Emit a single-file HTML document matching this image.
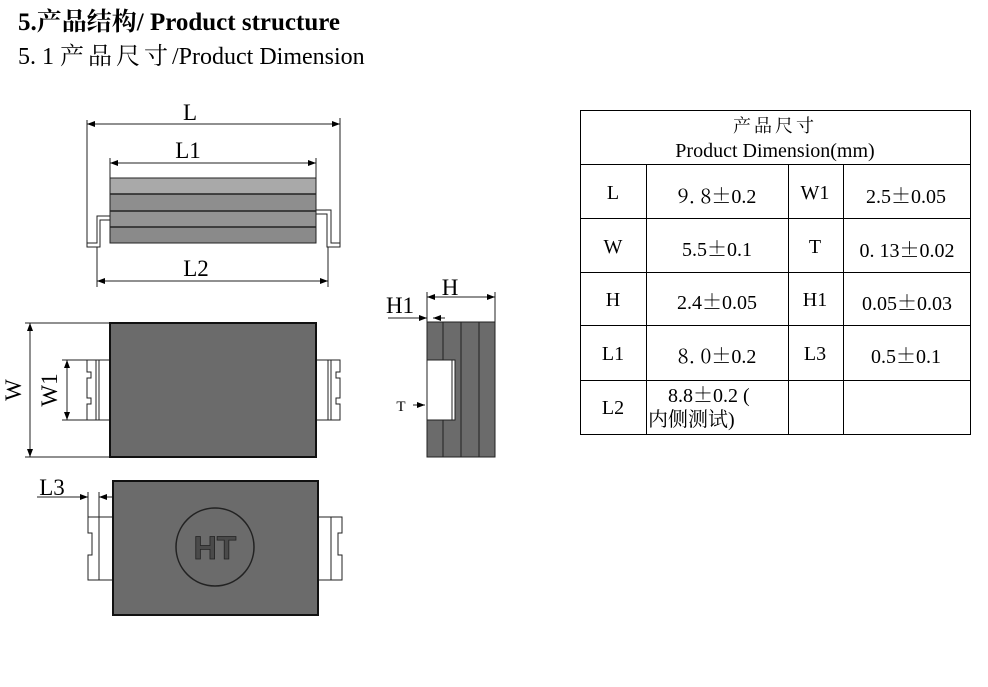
<!DOCTYPE html>
<html><head><meta charset="utf-8"><style>
html,body{margin:0;padding:0;background:#fff;}
svg{display:block;}
text{font-family:"Liberation Serif","Noto Serif CJK SC",serif;fill:#000;}
.c{font-family:"Noto Serif CJK SC",serif;}
</style></head><body>
<svg width="988" height="687" viewBox="0 0 988 687" xmlns="http://www.w3.org/2000/svg">
<defs>
<marker id="a" markerWidth="8" markerHeight="6" refX="8" refY="3" orient="auto" markerUnits="userSpaceOnUse"><path d="M0,0 L8,3 L0,6z" fill="#000"/></marker>
<marker id="b" markerWidth="8" markerHeight="6" refX="0" refY="3" orient="auto" markerUnits="userSpaceOnUse"><path d="M8,0 L0,3 L8,6z" fill="#000"/></marker>
</defs>
<text x="18" y="30" font-size="25" font-weight="bold">5.产品结构/ Product structure</text>
<text x="18" y="64" font-size="24">5. 1 <tspan letter-spacing="4">产品尺寸</tspan>/Product Dimension</text>

<g stroke="#222" stroke-width="1" fill="none">
<line x1="87" y1="120" x2="87" y2="243"/><line x1="340" y1="118" x2="340" y2="243"/>
<line x1="87" y1="124" x2="340" y2="124" marker-start="url(#b)" marker-end="url(#a)"/>
<line x1="110" y1="158" x2="110" y2="178"/><line x1="316" y1="158" x2="316" y2="178"/>
<line x1="110" y1="163" x2="316" y2="163" marker-start="url(#b)" marker-end="url(#a)"/>
<path d="M110,216 H97 V243 H87 V247 H100 V220 H110" fill="#fff"/>
<path d="M316,210 H331 V243 H340 V247 H327 V214 H316" fill="#fff"/>
<line x1="97" y1="247" x2="97" y2="287"/><line x1="328" y1="247" x2="328" y2="287"/>
<line x1="97" y1="281" x2="328" y2="281" marker-start="url(#b)" marker-end="url(#a)"/>
<rect x="110" y="178" width="206" height="16" fill="#a9a9a9"/>
<rect x="110" y="194" width="206" height="17" fill="#8e8e8e"/>
<rect x="110" y="211" width="206" height="16" fill="#939393"/>
<rect x="110" y="227" width="206" height="16" fill="#8a8a8a"/>
<rect x="110" y="178" width="206" height="65"/>
<line x1="110" y1="194" x2="316" y2="194" stroke-width="1.5"/>
<line x1="110" y1="211" x2="316" y2="211" stroke-width="1.5"/>
<line x1="110" y1="227" x2="316" y2="227" stroke-width="1.5"/>

<line x1="25" y1="323" x2="110" y2="323"/><line x1="25" y1="457" x2="110" y2="457"/>
<line x1="30" y1="323" x2="30" y2="457" marker-start="url(#b)" marker-end="url(#a)"/>
<line x1="62" y1="360" x2="88" y2="360"/><line x1="62" y1="420" x2="88" y2="420"/>
<line x1="67" y1="360" x2="67" y2="420" marker-start="url(#b)" marker-end="url(#a)"/>
<path d="M110,360 H87 V372 H91 V378 H87 V398 H91 V404 H87 V420 H110" fill="#fff"/>
<line x1="96" y1="360" x2="96" y2="420"/><line x1="99" y1="360" x2="99" y2="420"/>
<path d="M316,360 H340 V372 H336 V378 H340 V398 H336 V404 H340 V420 H316" fill="#fff"/>
<line x1="328" y1="360" x2="328" y2="420"/><line x1="331" y1="360" x2="331" y2="420"/>
<rect x="110" y="323" width="206" height="134" fill="#6b6b6b" stroke="#111" stroke-width="2"/>

<line x1="427" y1="292" x2="427" y2="322"/><line x1="495" y1="292" x2="495" y2="322"/>
<line x1="427" y1="297" x2="495" y2="297" marker-start="url(#b)" marker-end="url(#a)"/>
<line x1="388" y1="318" x2="427" y2="318" marker-end="url(#a)"/>
<line x1="445" y1="318" x2="433" y2="318" marker-end="url(#a)"/>
<rect x="427" y="322" width="68" height="135" fill="#6b6b6b"/>
<line x1="443" y1="322" x2="443" y2="457"/><line x1="461" y1="322" x2="461" y2="457"/><line x1="479" y1="322" x2="479" y2="457"/>
<rect x="427" y="360" width="28" height="60" fill="#fff"/>
<line x1="452" y1="360" x2="452" y2="420"/>
<line x1="413" y1="405" x2="425" y2="405" marker-end="url(#a)"/>

<line x1="88" y1="492" x2="88" y2="517"/><line x1="99" y1="492" x2="99" y2="517"/>
<line x1="37" y1="497" x2="88" y2="497" marker-end="url(#a)"/>
<line x1="116" y1="497" x2="99" y2="497" marker-end="url(#a)"/>
<path d="M113,517 H88 V533 H92 V555 H88 V580 H113" fill="#fff"/>
<line x1="99" y1="517" x2="99" y2="580"/>
<path d="M318,517 H342 V533 H338 V555 H342 V580 H318" fill="#fff"/>
<line x1="331" y1="517" x2="331" y2="580"/>
<rect x="113" y="481" width="205" height="134" fill="#6b6b6b" stroke="#111" stroke-width="2"/>
<circle cx="215" cy="547" r="39" stroke="#222" stroke-width="1.5"/>
</g>
<text x="215" y="559" font-size="32" font-weight="bold" text-anchor="middle" style="font-family:'Liberation Sans',sans-serif;fill:#4a4a4a;stroke:#222;stroke-width:0.8">HT</text>

<text x="190" y="120" font-size="23" text-anchor="middle">L</text>
<text x="188" y="158" font-size="23" text-anchor="middle">L1</text>
<text x="196" y="276" font-size="23" text-anchor="middle">L2</text>
<text x="21" y="390" font-size="23" text-anchor="middle" transform="rotate(-90 21 390)">W</text>
<text x="57" y="390" font-size="23" text-anchor="middle" transform="rotate(-90 57 390)">W1</text>
<text x="450" y="295" font-size="23" text-anchor="middle">H</text>
<text x="400" y="313" font-size="23" text-anchor="middle">H1</text>
<text x="401" y="411" font-size="15" text-anchor="middle">T</text>
<text x="52" y="495" font-size="23" text-anchor="middle">L3</text>

<g stroke="#000" stroke-width="1" fill="none">
<rect x="580.5" y="110.5" width="390" height="324"/>
<line x1="580" y1="164.5" x2="970" y2="164.5"/>
<line x1="580" y1="218.5" x2="970" y2="218.5"/>
<line x1="580" y1="272.5" x2="970" y2="272.5"/>
<line x1="580" y1="325.5" x2="970" y2="325.5"/>
<line x1="580" y1="380.5" x2="970" y2="380.5"/>
<line x1="646.5" y1="164" x2="646.5" y2="434"/>
<line x1="788.5" y1="164" x2="788.5" y2="434"/>
<line x1="843.5" y1="164" x2="843.5" y2="434"/>
</g>
<g font-size="20">
<text x="775" y="132" text-anchor="middle" font-size="18" letter-spacing="3">产品尺寸</text>
<text x="775" y="157" text-anchor="middle" font-size="20">Product Dimension(mm)</text>
<text x="613" y="199" text-anchor="middle">L</text>
<text x="717" y="203" text-anchor="middle"><tspan class="c">9. 8</tspan><tspan class="c">±</tspan>0.2</text>
<text x="815" y="199" text-anchor="middle">W1</text>
<text x="906" y="203" text-anchor="middle">2.5<tspan class="c">±</tspan>0.05</text>
<text x="613" y="253" text-anchor="middle">W</text>
<text x="717" y="256" text-anchor="middle">5.5<tspan class="c">±</tspan>0.1</text>
<text x="815" y="253" text-anchor="middle">T</text>
<text x="907" y="257" text-anchor="middle">0. 13<tspan class="c">±</tspan>0.02</text>
<text x="613" y="306" text-anchor="middle">H</text>
<text x="717" y="309" text-anchor="middle">2.4<tspan class="c">±</tspan>0.05</text>
<text x="815" y="306" text-anchor="middle">H1</text>
<text x="907" y="310" text-anchor="middle">0.05<tspan class="c">±</tspan>0.03</text>
<text x="613" y="360" text-anchor="middle">L1</text>
<text x="717" y="363" text-anchor="middle"><tspan class="c">8. 0</tspan><tspan class="c">±</tspan>0.2</text>
<text x="815" y="360" text-anchor="middle">L3</text>
<text x="906" y="363" text-anchor="middle">0.5<tspan class="c">±</tspan>0.1</text>
<text x="613" y="414" text-anchor="middle">L2</text>
<text x="668" y="402">8.8<tspan class="c">±</tspan>0.2 (</text>
<text x="648" y="426">内侧测试)</text>
</g>
</svg>
</body></html>
